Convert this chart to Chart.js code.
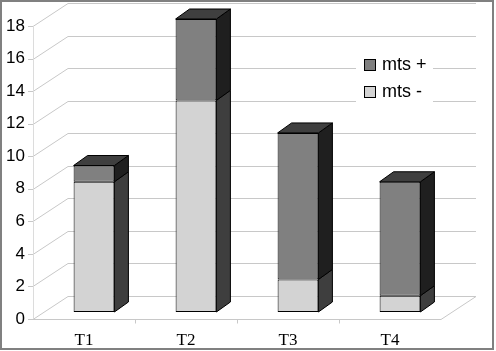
<!DOCTYPE html>
<html>
<head>
<meta charset="utf-8">
<script src="https://cdn.jsdelivr.net/npm/chart.js@4/dist/chart.umd.min.js"></script>
<style>
html,body{margin:0;padding:0;background:#fff;}
canvas{display:block;}
</style>
</head>
<body>
<canvas id="c" width="496" height="351"></canvas>
<script>
const categories = ['T1', 'T2', 'T3', 'T4'];
const mtsMinus = [8, 13, 2, 1];
const mtsPlus = [1, 5, 9, 7];
const yTickValues = [0, 2, 4, 6, 8, 10, 12, 14, 16, 18];
const seriesLabels = ['mts -', 'mts +'];

const DEPTH_X = 35, DEPTH_Y = -23;     // floor / wall depth
const BAR_OX = 10, BAR_OY = -7;        // bar front plane offset
const BAR_DX = 14, BAR_DY = -10;       // bar depth
const sideColors = ['#3e3e3e', '#1f1f1f'];
const topColors = ['#5a5a5a', '#3f3f3f'];

const threeD = {
  id: 'threeD',
  beforeDatasetsDraw(chart) {
    const ctx = chart.ctx;
    const ca = chart.chartArea;
    const y = chart.scales.y;
    const x = chart.scales.x;
    ctx.save();
    ctx.strokeStyle = '#c8c8c8';
    ctx.lineWidth = 1;
    // walls gridlines + small axis ticks
    yTickValues.forEach(v => {
      const py = Math.round(y.getPixelForValue(v)) + 0.5;
      ctx.beginPath();
      ctx.moveTo(ca.left - 5, py);
      ctx.lineTo(ca.left, py);
      ctx.lineTo(ca.left + DEPTH_X, py + DEPTH_Y);
      ctx.lineTo(ca.right + DEPTH_X, py + DEPTH_Y);
      ctx.stroke();
    });
    // front axis vertical
    ctx.strokeStyle = '#dcdcdc';
    ctx.beginPath();
    ctx.moveTo(Math.round(ca.left) + 0.5, y.getPixelForValue(0));
    ctx.lineTo(Math.round(ca.left) + 0.5, y.getPixelForValue(18));
    ctx.stroke();
    // floor
    ctx.strokeStyle = '#c8c8c8';
    const b = Math.round(y.getPixelForValue(0)) + 0.5;
    ctx.beginPath();
    ctx.moveTo(ca.left, b);
    ctx.lineTo(ca.right, b);
    ctx.lineTo(ca.right + DEPTH_X, b + DEPTH_Y);
    ctx.stroke();
    // category tick marks
    for (let i = 1; i < categories.length; i++) {
      const px = Math.round((x.getPixelForValue(i - 1) + x.getPixelForValue(i)) / 2) + 0.5;
      ctx.beginPath();
      ctx.moveTo(px, b);
      ctx.lineTo(px, b + 4);
      ctx.stroke();
    }
    // legend background
    ctx.fillStyle = '#fff';
    ctx.fillRect(356, 45, 77, 60);
    ctx.restore();
    ctx.save();
    ctx.translate(BAR_OX, BAR_OY);
  },
  afterDatasetsDraw(chart) {
    const ctx = chart.ctx;
    const last = chart.data.datasets.length - 1;
    ctx.lineWidth = 1;
    ctx.strokeStyle = '#000';
    chart.data.datasets.forEach((ds, di) => {
      const meta = chart.getDatasetMeta(di);
      meta.data.forEach(el => {
        const p = el.getProps(['x', 'y', 'base', 'width'], true);
        const r = p.x + p.width / 2, l = p.x - p.width / 2;
        ctx.fillStyle = sideColors[di];
        ctx.beginPath();
        ctx.moveTo(r, p.y);
        ctx.lineTo(r + BAR_DX, p.y + BAR_DY);
        ctx.lineTo(r + BAR_DX, p.base + BAR_DY);
        ctx.lineTo(r, p.base);
        ctx.closePath();
        ctx.fill();
        ctx.stroke();
        if (di === last) {
          ctx.fillStyle = topColors[di];
          ctx.beginPath();
          ctx.moveTo(l, p.y);
          ctx.lineTo(l + BAR_DX, p.y + BAR_DY);
          ctx.lineTo(r + BAR_DX, p.y + BAR_DY);
          ctx.lineTo(r, p.y);
          ctx.closePath();
          ctx.fill();
          ctx.stroke();
        }
      });
    });
    ctx.restore();
  },
  afterDraw(chart) {
    const ctx = chart.ctx;
    ctx.save();
    // legend (reverse order)
    const items = chart.data.datasets.map(d => ({label: d.label, color: d.backgroundColor})).reverse();
    ctx.font = '18px "Liberation Sans", Arial, sans-serif';
    ctx.textBaseline = 'middle';
    items.forEach((it, i) => {
      const by = 59 + i * 27;
      ctx.fillStyle = it.color;
      ctx.fillRect(364.5, by + 0.5, 11, 11);
      ctx.strokeStyle = '#000';
      ctx.lineWidth = 1;
      ctx.strokeRect(364.5, by + 0.5, 11, 11);
      ctx.fillStyle = '#000';
      ctx.fillText(it.label, 382, by + 6);
    });
    // frame
    ctx.strokeStyle = '#808080';
    ctx.lineWidth = 2;
    ctx.strokeRect(1, 1, 492, 348);
    ctx.restore();
  }
};

new Chart(document.getElementById('c'), {
  type: 'bar',
  data: {
    labels: categories,
    datasets: [
      {label: seriesLabels[0], data: mtsMinus, backgroundColor: '#d3d3d3', borderColor: '#000', borderWidth: 1, borderSkipped: false},
      {label: seriesLabels[1], data: mtsPlus, backgroundColor: '#808080', borderColor: '#000', borderWidth: 1, borderSkipped: false}
    ]
  },
  options: {
    responsive: false,
    animation: false,
    events: [],
    layout: {padding: {top: 26, right: 55, left: 0, bottom: 0}},
    datasets: {bar: {barPercentage: 0.4, categoryPercentage: 1.0}},
    plugins: {legend: {display: false}, tooltip: {enabled: false}},
    scales: {
      x: {
        stacked: true,
        grid: {display: false, drawTicks: false},
        border: {display: false},
        ticks: {color: '#000', font: {family: '"Liberation Serif", "Times New Roman", serif', size: 17}, padding: 11},
        afterFit(s) { s.height = 32; }
      },
      y: {
        stacked: true,
        min: 0,
        max: 18,
        afterBuildTicks(s) { s.ticks = yTickValues.map(v => ({value: v})); },
        grid: {display: false, drawTicks: false},
        border: {display: false},
        ticks: {color: '#000', font: {family: '"Liberation Sans", Arial, sans-serif', size: 17}, padding: 8},
        afterFit(s) { s.width = 33; }
      }
    }
  },
  plugins: [threeD]
});
</script>
</body>
</html>
